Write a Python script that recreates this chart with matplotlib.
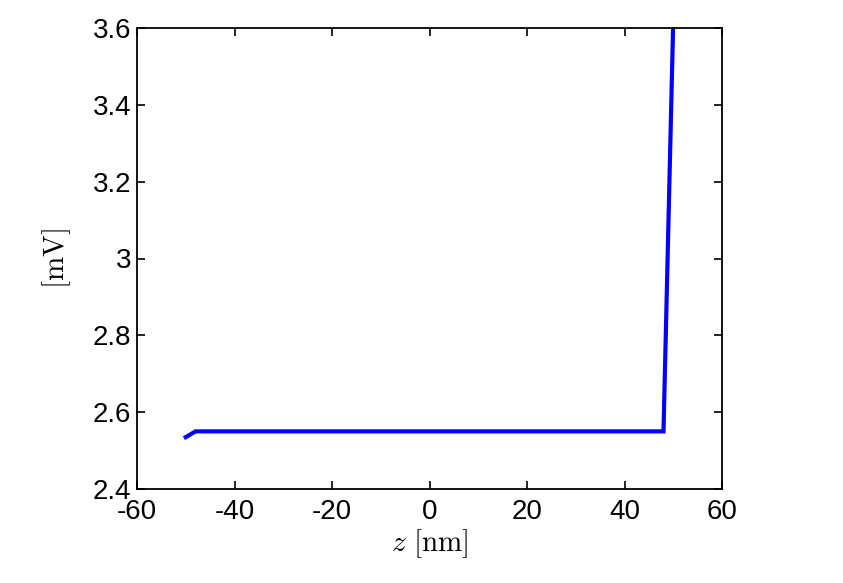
import numpy as np
import matplotlib
matplotlib.use("Agg")
import matplotlib.pyplot as plt

plt.rcParams['font.family'] = ['Liberation Sans', 'DejaVu Sans']
plt.rcParams['mathtext.fontset'] = 'cm'
plt.rcParams['axes.unicode_minus'] = False

# data
z_nm = [-50, -48, 48, 50]
V_mV = [2.535, 2.55, 2.55, 3.62]

xticks = [-60, -40, -20, 0, 20, 40, 60]
yticks = [2.4, 2.6, 2.8, 3.0, 3.2, 3.4, 3.6]
ytick_lbl = ['2.4', '2.6', '2.8', '3', '3.2', '3.4', '3.6']

fig = plt.figure(figsize=(8.43, 5.83), dpi=100)
ax = fig.add_axes([137/843, 1-489/583, (722-137)/843, (489-28)/583])

ax.plot(z_nm, V_mV, color=(0, 0, 1), lw=3, solid_joinstyle='miter')

ax.set_xlim(-60, 60)
ax.set_ylim(2.4, 3.6)
ax.set_xticks(xticks, [str(t) for t in xticks])
ax.set_yticks(yticks, ytick_lbl)
ax.tick_params(direction='in', top=True, right=True, length=6, width=1.2,
               labelsize=20)
ax.tick_params(axis='x', pad=7)
ax.tick_params(axis='y', pad=4)
for s in ax.spines.values():
    s.set_linewidth(1.3)

ax.set_xlabel(r'$z\ [\mathrm{nm}]$', fontsize=21, labelpad=2)
ax.set_ylabel(r'$[\mathrm{mV}]$', fontsize=21, labelpad=14)

fig.savefig("out.png", dpi=100)
